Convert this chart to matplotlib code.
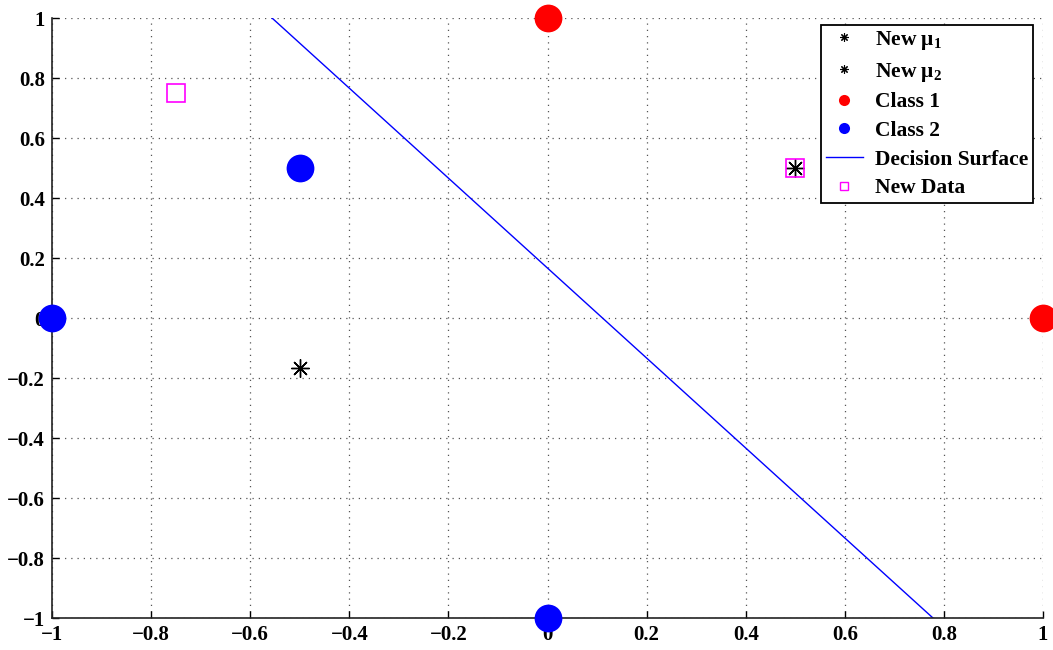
"""Nearest-mean classifier: class samples, updated means and decision surface."""

import matplotlib.pyplot as plt
from matplotlib.lines import Line2D

plt.rcParams["font.family"] = ["Liberation Serif", "DejaVu Serif"]
plt.rcParams["font.weight"] = "bold"
plt.rcParams["mathtext.fontset"] = "custom"
plt.rcParams["mathtext.rm"] = "Liberation Serif:bold"
plt.rcParams["mathtext.it"] = "Liberation Serif:bold"
plt.rcParams["mathtext.default"] = "regular"

# class samples
class1_x = [0, 1]
class1_y = [1, 0]
class2_x = [-0.5, -1, 0]
class2_y = [0.5, 0, -1]

# updated class means
mu1 = (-0.5, -1 / 6)
mu2 = (0.5, 0.5)

# new data points
new_x = [-0.75, 0.5]
new_y = [0.75, 0.5]

# decision surface end points (perpendicular bisector of the means)
surface_x = [-0.556, 0.778]
surface_y = [1, -1]

ticks = [-1, -0.8, -0.6, -0.4, -0.2, 0, 0.2, 0.4, 0.6, 0.8, 1]
tick_labels = ["\u22121", "\u22120.8", "\u22120.6", "\u22120.4", "\u22120.2", "0",
               "0.2", "0.4", "0.6", "0.8", "1"]

star = (8, 2, 0)

fig = plt.figure(figsize=(10.53, 6.5), dpi=100)
ax = fig.add_axes([0.0494, 0.0492, 0.9411, 0.9231])

ax.plot(surface_x, surface_y, color="#0000ff", lw=1.0, zorder=2)
ax.plot(class1_x, class1_y, "o", color="#ff0000", ms=20, mec="none",
        clip_on=False, zorder=3)
ax.plot(class2_x, class2_y, "o", color="#0000ff", ms=20, mec="none",
        clip_on=False, zorder=3)
ax.plot(*mu1, marker=star, color="black", ms=13, mew=1.0, zorder=4)
ax.plot(*mu2, marker=star, color="black", ms=13, mew=1.0, zorder=4)
ax.plot(new_x, new_y, "s", mfc="none", mec="#ff00ff", ms=13, mew=1.2, zorder=4)

ax.set_xlim(-1, 1)
ax.set_ylim(-1, 1)
ax.set_xticks(ticks)
ax.set_xticklabels(tick_labels)
ax.set_yticks(ticks)
ax.set_yticklabels(tick_labels)
ax.tick_params(direction="in", length=5, width=1, labelsize=15)
ax.tick_params(axis="x", pad=5)
ax.tick_params(axis="y", pad=5)
for lab in ax.get_xticklabels() + ax.get_yticklabels():
    lab.set_fontweight("bold")

ax.grid(True, color="#555555", linestyle=(0, (1, 4)), linewidth=0.9)
ax.set_axisbelow(True)
ax.spines["top"].set_visible(False)
ax.spines["right"].set_visible(False)
for side in ("left", "bottom"):
    ax.spines[side].set_linewidth(1.2)
    ax.spines[side].set_color("#222222")

handles = [
    Line2D([], [], ls="none", marker=star, color="black", ms=6, mew=0.8),
    Line2D([], [], ls="none", marker=star, color="black", ms=6, mew=0.8),
    Line2D([], [], ls="none", marker="o", color="#ff0000", ms=8, mec="none"),
    Line2D([], [], ls="none", marker="o", color="#0000ff", ms=8, mec="none"),
    Line2D([], [], color="#0000ff", lw=1.0),
    Line2D([], [], ls="none", marker="s", mfc="none", mec="#ff00ff", ms=6, mew=1.0),
]
labels = ["New $μ_1$", "New $μ_2$", "Class 1", "Class 2", "Decision Surface", "New Data"]
leg = ax.legend(handles, labels, loc="upper right", bbox_to_anchor=(0.9895, 0.989),
                fancybox=False, framealpha=1, edgecolor="black",
                prop={"family": "Liberation Serif", "weight": "bold", "size": 15.5},
                handlelength=1.75, handletextpad=0.55, labelspacing=0.40,
                borderpad=0.2, borderaxespad=0)
leg.get_frame().set_linewidth(1.3)

fig.savefig("out.png", dpi=100)
